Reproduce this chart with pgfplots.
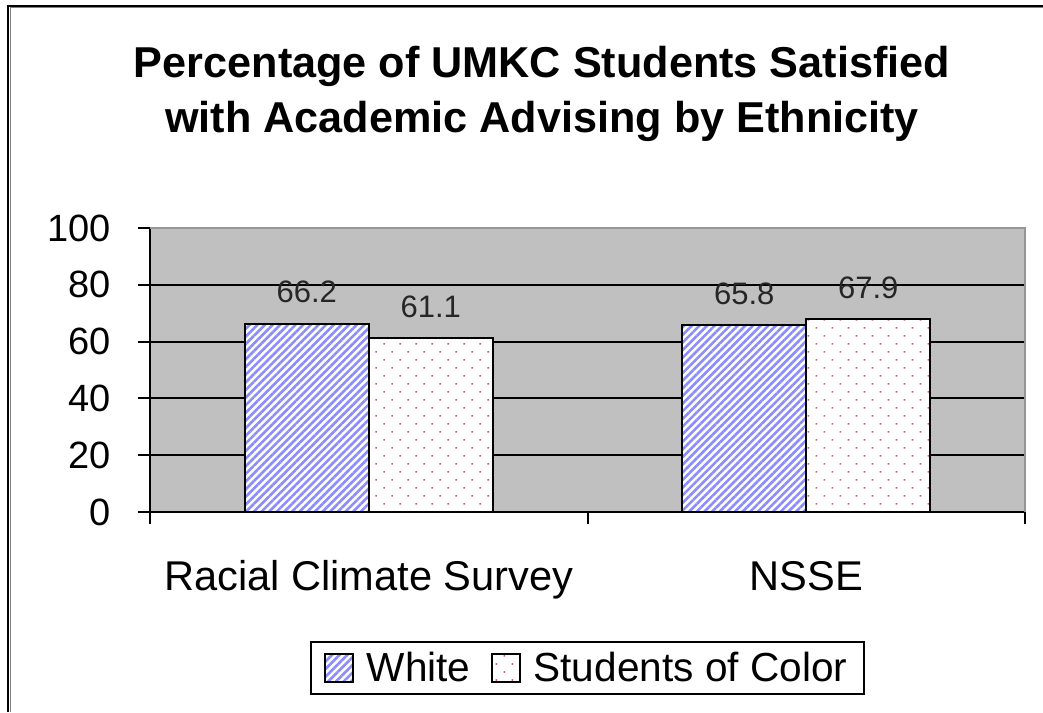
\documentclass[border=0pt]{standalone}
\usepackage{pgfplots}
\pgfplotsset{compat=1.18}
\usepackage{fontspec}
\setmainfont{Liberation Sans}
\usetikzlibrary{patterns.meta}
\definecolor{plotgray}{RGB}{192,192,192}
\definecolor{stripe}{RGB}{140,140,255}
\definecolor{dotc}{RGB}{200,90,140}
\definecolor{bordergray}{RGB}{150,150,150}
\pgfplotsset{boxlegend/.style={legend image code/.code={\draw[##1] (0pt,-7pt) rectangle (14pt,7pt);}}}
\begin{document}
\begin{tikzpicture}
\useasboundingbox (0,0) rectangle (521.5pt,356pt);
\fill[white] (0,0) rectangle (521.5pt,356pt);
\draw[black, line width=1pt] (4pt,0) -- (4pt,353pt) -- (521.5pt,353pt);
\draw[gray, line width=0.5pt] (5pt,0) -- (5pt,352pt) -- (521.5pt,352pt);
\node[anchor=base, font=\fontsize{21.6}{25}\selectfont\bfseries, inner sep=0pt] at (271pt,317pt) {Percentage of UMKC Students Satisfied};
\node[anchor=base, font=\fontsize{21.6}{25}\selectfont\bfseries, inner sep=0pt] at (271pt,289.5pt) {with Academic Advising by Ethnicity};
\begin{axis}[
  at={(75pt,100pt)}, anchor=south west,
  scale only axis, width=437.5pt, height=142pt,
  xmin=-0.5, xmax=1.5, ymin=0, ymax=100,
  axis x line*=bottom, axis y line*=left,
  axis line style={black, line width=1pt, -},
  axis background/.style={fill=plotgray},
  /pgf/number format/assume math mode=true,
  xtick={-0.5,0.5,1.5}, xticklabels={},
  extra x ticks={0,1},
  extra x tick labels={Racial Climate Survey, NSSE},
  extra x tick style={major tick length=0pt, tick style={draw=none},
    xticklabel style={font=\fontsize{20.8}{24}\selectfont, anchor=base, yshift=-39pt}},
  ytick={0,20,40,60,80,100},
  tick align=outside,
  major tick length=6pt,
  tick style={black, line width=1pt},
  yticklabel style={font=\fontsize{19}{22}\selectfont, anchor=east, xshift=-10pt},
  ymajorgrids, grid style={black, line width=1pt},
  ybar, bar width=0.2834,
  nodes near coords={\pgfmathprintnumber[fixed,precision=1,zerofill]{\pgfplotspointmeta}},
  every node near coord/.append style={font=\fontsize{15.5}{18}\selectfont, text=black!85, anchor=base, yshift=10.5pt},
  legend style={at={(0.5,-0.549)}, anchor=center, legend columns=2, draw=black, line width=1pt,
    font=\fontsize{20.3}{24}\selectfont, inner xsep=6.5pt, inner ysep=3pt,
    /tikz/every odd column/.append style={column sep=4.5pt},
    /tikz/every even column/.append style={column sep=8pt}},
  after end axis/.code={\draw[bordergray, line width=1pt] (rel axis cs:0,1) -- (rel axis cs:1,1) -- (rel axis cs:1,0);},
]
\addplot[bar shift=-0.1417, draw=black, line width=1pt, preaction={fill=white},
  pattern={Lines[angle=45,distance=2.7pt,line width=1.3pt]}, pattern color=stripe, boxlegend]
  coordinates {(0,66.2) (1,65.8)};
\addplot[bar shift=0.1417, draw=black, line width=1pt, preaction={fill=white},
  pattern={Dots[radius=0.55pt,distance=5.66pt,angle=45]}, pattern color=dotc, boxlegend]
  coordinates {(0,61.1) (1,67.9)};
\legend{White, Students of Color}
\end{axis}
\end{tikzpicture}
\end{document}
